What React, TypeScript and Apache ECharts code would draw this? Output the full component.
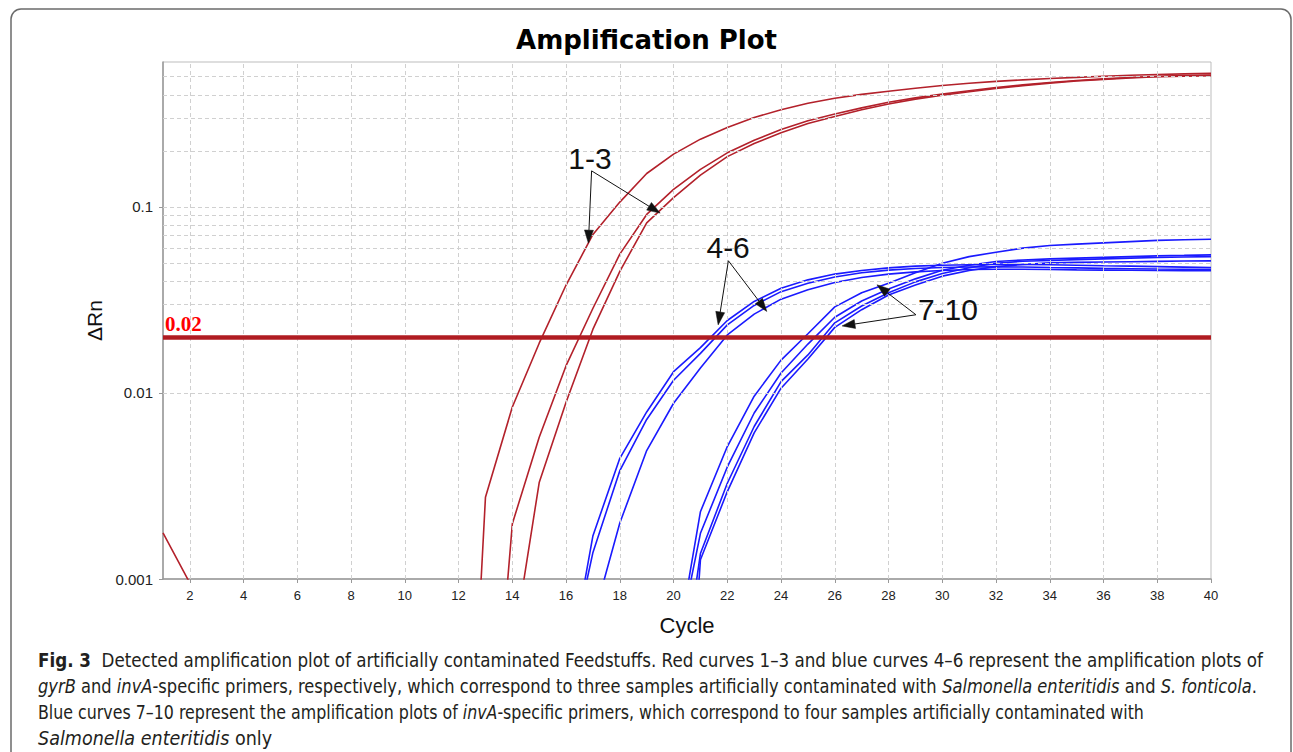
import React, { useEffect, useRef } from "react";
import * as echarts from "echarts";

const N = null;

// Cycle numbers (x values)
const cycles = [1, 2, 3, 4, 5, 6, 7, 8, 9, 10, 11, 12, 13, 14, 15, 16, 17, 18, 19, 20,
  21, 22, 23, 24, 25, 26, 27, 28, 29, 30, 31, 32, 33, 34, 35, 36, 37, 38, 39, 40];

// Red curves 1-3 (gyrB) – ΔRn per cycle (null = below plotted range, not visible)
const red1 = [N, N, N, N, N, N, N, N, N, N, N, 0.000005, 0.00275, 0.0084, 0.0185, 0.038, 0.071, 0.106, 0.151, 0.192,
  0.231, 0.267, 0.302, 0.332, 0.36, 0.383, 0.402, 0.418, 0.434, 0.449, 0.461, 0.472, 0.481, 0.489, 0.496, 0.503, 0.509, 0.514, 0.518, 0.521];
const red2 = [N, N, N, N, N, N, N, N, N, N, N, N, 0.000035, 0.00198, 0.00578, 0.014, 0.0285, 0.0557, 0.091, 0.124,
  0.159, 0.195, 0.228, 0.26, 0.29, 0.315, 0.34, 0.365, 0.385, 0.403, 0.42, 0.437, 0.452, 0.466, 0.477, 0.487, 0.495, 0.502, 0.507, 0.51];
const red3 = [0.00177, 0.00095, N, N, N, N, N, N, N, N, N, N, N, 0.0004, 0.0033, 0.0089, 0.022, 0.045, 0.082, 0.112,
  0.148, 0.186, 0.219, 0.25, 0.28, 0.306, 0.332, 0.357, 0.379, 0.398, 0.415, 0.432, 0.448, 0.462, 0.474, 0.484, 0.493, 0.5, 0.504, 0.507];

// Blue curves 4-6 (invA, mixed samples)
const blue4 = [N, N, N, N, N, N, N, N, N, N, N, N, N, N, N, 0.00027, 0.00171, 0.00445, 0.0079, 0.013,
  0.0175, 0.0245, 0.031, 0.0365, 0.0405, 0.0435, 0.0455, 0.047, 0.048, 0.0485, 0.0488, 0.049, 0.049, 0.0488, 0.0485, 0.0482, 0.048, 0.0477, 0.0474, 0.0471];
const blue5 = [N, N, N, N, N, N, N, N, N, N, N, N, N, N, N, 0.0003, 0.00139, 0.00382, 0.0072, 0.0117,
  0.0163, 0.0232, 0.0295, 0.035, 0.0388, 0.042, 0.0442, 0.0457, 0.0466, 0.0472, 0.0475, 0.0476, 0.0475, 0.0472, 0.047, 0.0467, 0.0465, 0.0463, 0.0462, 0.046];
const blue6 = [N, N, N, N, N, N, N, N, N, N, N, N, N, N, N, N, 0.0006, 0.002, 0.0049, 0.0088,
  0.0136, 0.0205, 0.0265, 0.0319, 0.0358, 0.0392, 0.0417, 0.0435, 0.0447, 0.0455, 0.046, 0.0462, 0.0462, 0.046, 0.0458, 0.0457, 0.0456, 0.0455, 0.0454, 0.0453];

// Blue curves 7-10 (invA, Salmonella enteritidis only)
const blue7 = [N, N, N, N, N, N, N, N, N, N, N, N, N, N, N, N, N, N, N, 0.00033,
  0.0023, 0.00515, 0.0096, 0.015, 0.0208, 0.029, 0.0345, 0.0388, 0.0442, 0.0497, 0.054, 0.057, 0.06, 0.062, 0.063, 0.064, 0.065, 0.066, 0.0665, 0.067];
const blue8 = [N, N, N, N, N, N, N, N, N, N, N, N, N, N, N, N, N, N, N, 0.00034,
  0.00176, 0.004, 0.0078, 0.0128, 0.0183, 0.0255, 0.0312, 0.0362, 0.041, 0.0456, 0.0485, 0.0508, 0.0518, 0.0525, 0.053, 0.0535, 0.054, 0.0545, 0.0548, 0.0552];
const blue9 = [N, N, N, N, N, N, N, N, N, N, N, N, N, N, N, N, N, N, N, 0.000137,
  0.00137, 0.00327, 0.0066, 0.0115, 0.016, 0.0238, 0.0293, 0.0345, 0.0395, 0.0438, 0.047, 0.0497, 0.051, 0.0515, 0.052, 0.0525, 0.053, 0.0534, 0.0537, 0.054];
const blue10 = [N, N, N, N, N, N, N, N, N, N, N, N, N, N, N, N, N, N, N, 0.00001,
  0.00127, 0.00295, 0.0061, 0.0106, 0.0152, 0.0225, 0.028, 0.0336, 0.038, 0.0424, 0.0455, 0.0477, 0.049, 0.05, 0.0503, 0.0505, 0.0507, 0.0509, 0.0511, 0.0512];

const redCurves = [red1, red2, red3];
const blueCurves = [blue4, blue5, blue6, blue7, blue8, blue9, blue10];

const thresholdValue = 0.02;
const thresholdLabel = "0.02";

// Axis ticks & gridlines
const xTickValues = [2, 4, 6, 8, 10, 12, 14, 16, 18, 20, 22, 24, 26, 28, 30, 32, 34, 36, 38, 40];
const xGridValues = [2, 4, 6, 8, 10, 12, 14, 16, 18, 20, 22, 24, 26, 28, 30, 32, 34, 36, 38];
const yTickValues = [0.001, 0.01, 0.1];
const yGridValues = [0.002, 0.003, 0.004, 0.005, 0.006, 0.007, 0.008, 0.009, 0.01,
  0.02, 0.03, 0.04, 0.05, 0.06, 0.07, 0.08, 0.09, 0.1, 0.2, 0.3, 0.4, 0.5];
const yMin = 0.001;
const yMax = 0.6;

// Annotations (data coordinates: [cycle, ΔRn])
const annotationTexts = ["1-3", "4-6", "7-10"];
const annotationTextAt = [[16.89, 0.181], [22.03, 0.0602], [30.21, 0.0279]];
const annotationFrom = [[16.95, 0.156], [22.04, 0.0513], [29.02, 0.0263]];
const annotationTips = [
  [[16.83, 0.0638], [19.5, 0.0925]],
  [[21.66, 0.0232], [23.47, 0.0274]],
  [[27.57, 0.0381], [26.27, 0.0229]],
];

const titleText = "Amplification Plot";
const xAxisName = "Cycle";
const yAxisName = "ΔRn";

const captionLines = [
  "{b|Fig. 3}  Detected amplification plot of artificially contaminated Feedstuffs. Red curves 1–3 and blue curves 4–6 represent the amplification plots of",
  "{i|gyrB} and {i|invA}-specific primers, respectively, which correspond to three samples artificially contaminated with {i|Salmonella enteritidis} and {i|S. fonticola}.",
  "Blue curves 7–10 represent the amplification plots of {i|invA}-specific primers, which correspond to four samples artificially contaminated with",
  "{i|Salmonella enteritidis} only",
];
const captionScaleX = [1, 0.974, 0.947, 1.05];

const RED = "#B3212B";
const BLUE = "#1A1AFF";
const THRESH = "#B01C22";
const CAP_FONT = "'Liberation Sans Narrow', 'DejaVu Sans Condensed', Roboto, sans-serif";
const CAP_SIZE = 18.6;

export default function App() {
  const ref = useRef<HTMLDivElement>(null);

  useEffect(() => {
    const chart = echarts.init(ref.current!, undefined, { renderer: "svg" });

    const curveSeries = [
      ...redCurves.map((vals, k) => ({ name: "gyrB " + (k + 1), color: RED, vals })),
      ...blueCurves.map((vals, k) => ({ name: "invA " + (k + 4), color: BLUE, vals })),
    ].map((c) => ({
      type: "line",
      name: c.name,
      data: cycles.map((x, i) => [x, c.vals[i]]),
      showSymbol: false,
      symbol: "none",
      connectNulls: false,
      silent: true,
      z: 3,
      lineStyle: { color: c.color, width: 1.6 },
      itemStyle: { color: c.color },
    }));

    const captionGraphics = captionLines.map((t, i) => ({
      type: "text",
      id: "cap" + i,
      x: 38,
      y: 660 + i * 26,
      scaleX: captionScaleX[i],
      style: {
        text: t,
        fill: "#231f20",
        fontFamily: CAP_FONT,
        fontSize: CAP_SIZE,
        verticalAlign: "middle",
        rich: {
          b: { fontFamily: CAP_FONT, fontSize: CAP_SIZE, fontWeight: "bold", fill: "#231f20" },
          i: { fontFamily: CAP_FONT, fontSize: CAP_SIZE, fontStyle: "italic", fill: "#231f20" },
        },
      },
    }));

    const baseGraphics: any[] = [
      {
        type: "rect",
        id: "frame",
        shape: { x: 11, y: 9, width: 1280, height: 800, r: 10 },
        style: { fill: "none", stroke: "#6b6b6b", lineWidth: 1.5 },
        silent: true,
        z: 0,
      },
      ...captionGraphics,
    ];

    const option: any = {
      animation: false,
      backgroundColor: "#ffffff",
      title: {
        text: titleText,
        left: "center",
        top: 22,
        textStyle: { fontFamily: "'DejaVu Sans', sans-serif", fontWeight: "bold", fontSize: 26, color: "#000" },
      },
      grid: {
        left: 163,
        top: 62,
        right: 82,
        bottom: 173,
        show: true,
        borderColor: "#bdbdbd",
        borderWidth: 1,
        backgroundColor: "transparent",
        outerBoundsMode: "none",
      },
      xAxis: {
        type: "value",
        min: 1,
        max: 40,
        interval: 1,
        name: xAxisName,
        nameLocation: "middle",
        nameGap: 35,
        nameTextStyle: { fontFamily: "'Liberation Sans', Arial, sans-serif", fontSize: 22, color: "#111" },
        axisLine: { show: true, lineStyle: { color: "#999", width: 1.5 } },
        axisTick: { show: true, length: 4, lineStyle: { color: "#999" }, customValues: xTickValues },
        axisLabel: {
          customValues: xTickValues,
          fontFamily: "'Liberation Sans', Arial, sans-serif",
          fontSize: 13,
          color: "#222",
          margin: 10,
          formatter: (v: number) => (v % 2 === 0 ? String(v) : ""),
        },
        splitLine: { show: false },
      },
      yAxis: {
        type: "log",
        logBase: 10,
        min: yMin,
        max: yMax,
        name: yAxisName,
        nameLocation: "middle",
        nameGap: 57,
        nameTextStyle: { fontFamily: "'Liberation Sans', Arial, sans-serif", fontSize: 21, color: "#111" },
        axisLine: { show: true, lineStyle: { color: "#999", width: 1.5 } },
        axisTick: { show: true, length: 4, lineStyle: { color: "#999" }, customValues: yTickValues },
        axisLabel: {
          customValues: yTickValues,
          fontFamily: "'Liberation Sans', Arial, sans-serif",
          fontSize: 15,
          color: "#222",
          margin: 10,
          formatter: (v: number) => {
            const l = Math.log10(v);
            return Math.abs(l - Math.round(l)) < 1e-6 ? String(v) : "";
          },
        },
        splitLine: { show: false },
        minorTick: { show: false },
      },
      series: [
        {
          type: "line",
          name: "grid",
          data: [],
          silent: true,
          z: 1,
          markLine: {
            silent: true,
            symbol: ["none", "none"],
            label: { show: false },
            animation: false,
            lineStyle: { color: "#d0d0d0", type: [4, 3], width: 1 },
            emphasis: { disabled: true },
            data: [
              ...xGridValues.map((v) => ({ xAxis: v })),
              ...yGridValues.map((v) => ({ yAxis: v })),
            ],
          },
        },
        ...curveSeries,
        {
          type: "line",
          name: "threshold",
          data: [],
          silent: true,
          z: 5,
          markLine: {
            silent: true,
            symbol: ["none", "none"],
            animation: false,
            lineStyle: { color: THRESH, type: "solid", width: 4.5 },
            emphasis: { disabled: true },
            label: {
              show: true,
              position: "insideStartTop",
              formatter: thresholdLabel,
              color: "#ff0000",
              fontFamily: "'Liberation Serif', 'Times New Roman', serif",
              fontWeight: "bold",
              fontSize: 21,
              distance: [2, 2],
            },
            data: [{ yAxis: thresholdValue }],
          },
        },
      ],
      graphic: baseGraphics,
    };

    chart.setOption(option);

    const toPx = (p: number[]) => chart.convertToPixel({ gridIndex: 0 }, p) as number[];
    const arrowGraphics: any[] = [];
    annotationTexts.forEach((txt, k) => {
      const tp = toPx(annotationTextAt[k]);
      arrowGraphics.push({
        type: "text",
        id: "ann" + k,
        x: tp[0],
        y: tp[1],
        z: 20,
        style: {
          text: txt,
          fill: "#111",
          fontFamily: "'Liberation Sans', Arial, sans-serif",
          fontSize: 30,
          align: "center",
          verticalAlign: "middle",
        },
      });
      const o = toPx(annotationFrom[k]);
      annotationTips[k].forEach((tipD, j) => {
        const t = toPx(tipD);
        const dx = t[0] - o[0];
        const dy = t[1] - o[1];
        const len = Math.sqrt(dx * dx + dy * dy);
        const ux = dx / len;
        const uy = dy / len;
        const L = 13;
        const W = 9;
        const bx = t[0] - ux * L;
        const by = t[1] - uy * L;
        const nx = -uy;
        const ny = ux;
        arrowGraphics.push({
          type: "line",
          id: `al${k}_${j}`,
          z: 20,
          shape: { x1: o[0], y1: o[1], x2: bx, y2: by },
          style: { stroke: "#111", lineWidth: 1 },
        });
        arrowGraphics.push({
          type: "polygon",
          id: `ah${k}_${j}`,
          z: 20,
          shape: {
            points: [
              [t[0], t[1]],
              [bx + (nx * W) / 2, by + (ny * W) / 2],
              [bx - (nx * W) / 2, by - (ny * W) / 2],
            ],
          },
          style: { fill: "#111", stroke: "#111", lineWidth: 0.5 },
        });
      });
    });

    chart.setOption({ graphic: [...baseGraphics, ...arrowGraphics] });

    return () => chart.dispose();
  }, []);

  return (
    <div
      ref={ref}
      style={{ position: "absolute", left: 0, top: 0, width: 1293, height: 752, background: "#fff" }}
    />
  );
}
